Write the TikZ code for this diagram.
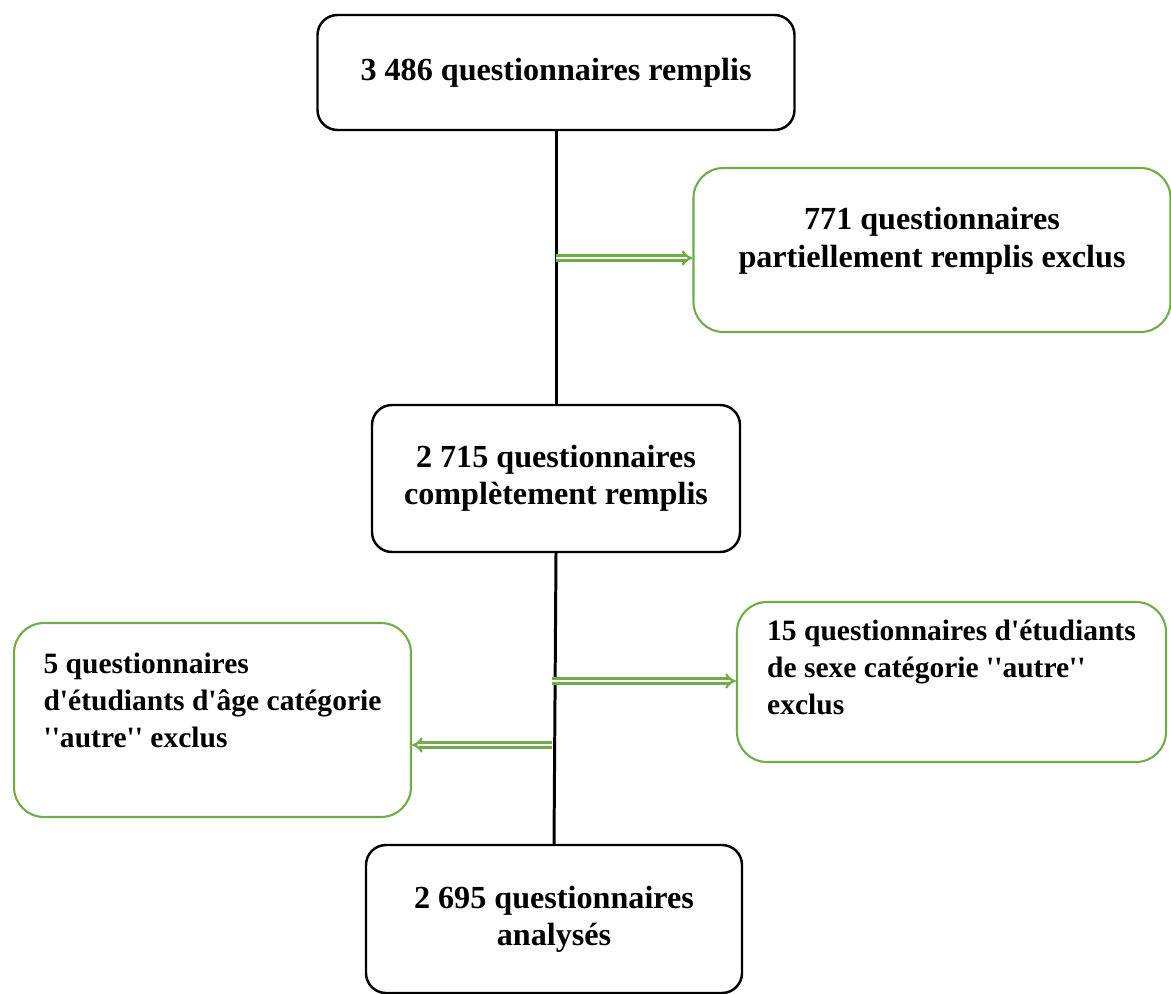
\documentclass[tikz,border=0pt]{standalone}
\usepackage{fontspec}
\setmainfont{Liberation Serif}[Ligatures=TeXOff]
\usetikzlibrary{arrows.meta}

\definecolor{boxgreen}{RGB}{112,173,71}

\tikzset{
    mainbox/.style={draw=black, line width=1.4pt, rounded corners=0.4cm, align=center,
        font=\fontsize{18.3}{21}\selectfont\bfseries},
    exclbox/.style={draw=boxgreen, line width=1.2pt, rounded corners=0.6cm,
        font=\fontsize{16.8}{21}\selectfont\bfseries},
    flowline/.style={black, line width=1.7pt},
    exclarrow/.style={boxgreen, line width=1.3pt, double=white, double distance=1.5pt, -{Implies}}
}

\begin{document}
\begin{tikzpicture}
    \useasboundingbox (0,0) rectangle (23.42,-19.86);

    % Main flow
    \node[mainbox, minimum width=9.54cm, minimum height=2.3cm] (remplis) at (11.12,-1.45)
        {3 486 questionnaires remplis};
    \node[mainbox, minimum width=7.36cm, minimum height=2.94cm] (complets) at (11.12,-9.57)
        {2 715 questionnaires\\complètement remplis};
    \node[mainbox, minimum width=7.52cm, minimum height=2.96cm] (analyses) at (11.08,-18.38)
        {2 695 questionnaires\\analysés};

    % Exclusions
    \node[exclbox, font=\fontsize{18.3}{22}\selectfont\bfseries, align=center, text depth=0.5cm,
        minimum width=9.54cm, minimum height=3.28cm] (partiels) at (18.64,-5.0)
        {771 questionnaires\\partiellement remplis exclus};
    \node[exclbox, align=left, text depth=0.58cm, minimum width=8.58cm, minimum height=3.2cm] (sexe) at (19.03,-13.64)
        {15 questionnaires d'étudiants\\de sexe catégorie ''autre''\\exclus};
    \node[exclbox, align=left, text depth=0.78cm, minimum width=7.94cm, minimum height=3.88cm] (age) at (4.25,-14.4)
        {5 questionnaires\\d'étudiants d'âge catégorie\\''autre'' exclus};

    % Connectors
    \draw[flowline] (remplis.south) -- (complets.north);
    \draw[flowline] (complets.south) -- (analyses.north);

    \coordinate (j1) at (11.12,-5.16);
    \coordinate (j2) at (11.04,-13.62);
    \coordinate (j3) at (11.04,-14.9);
    \draw[exclarrow] (j1) -- (j1 -| partiels.west);
    \draw[exclarrow] (j2) -- (j2 -| sexe.west);
    \draw[exclarrow] (j3) -- (j3 -| age.east);
\end{tikzpicture}
\end{document}
